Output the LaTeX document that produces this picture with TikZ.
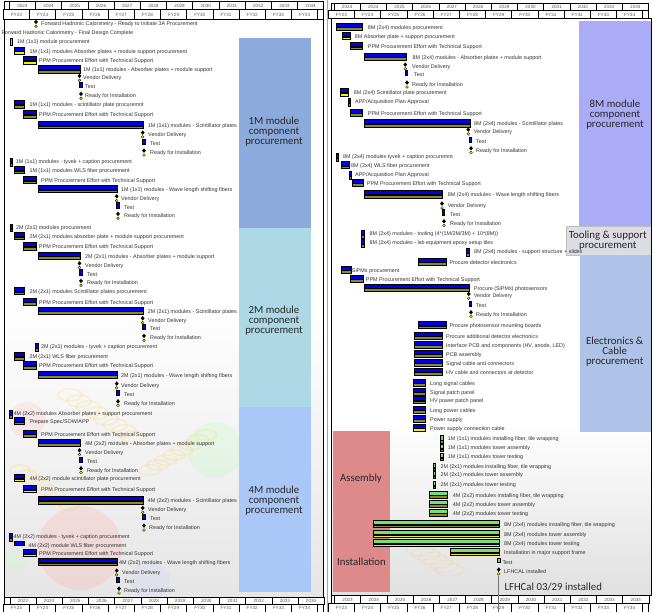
\documentclass[tikz,border=0pt]{standalone}
\usepackage{fontspec}
\setmainfont{Liberation Sans}
\newfontfamily\calfont{Carlito}
\definecolor{gbl}{HTML}{0000E8}
\definecolor{olv}{HTML}{8C8A24}
\definecolor{yel}{HTML}{F2F200}
\definecolor{grn}{HTML}{72E072}
\definecolor{bA}{HTML}{8CAADC}
\definecolor{bB}{HTML}{ADD9E6}
\definecolor{bC}{HTML}{A9C8F7}
\definecolor{bD}{HTML}{ABABF7}
\definecolor{bT}{HTML}{DCDCE3}
\definecolor{bE}{HTML}{AEC3E7}
\definecolor{bR}{HTML}{DE8A8A}
\newcounter{nc}
\tikzset{
  lbl/.style={anchor=west,inner sep=0pt,font=\fontsize{5.4}{6}\selectfont,text=black!80},
  barline/.style={draw=black,line width=.3pt},
  hc/.style={draw=black,line width=.5pt,fill=white},
  htx/.style={inner sep=0pt,font=\fontsize{4.6}{5}\selectfont,text=black!65},
  blk/.style={align=center,inner sep=0pt,text=black!85,font={\calfont\fontsize{10.8}{10}\selectfont}},
}
\newcommand{\GLab}[3]{\stepcounter{nc}\node[lbl] (n\arabic{nc}) at (#1,#2) {#3};}
% x1 x2 ty tx label lowcolor
\newcommand{\GTask}[6]{%
  \filldraw[barline,fill=gbl] (#1,#3-5) rectangle (#2,#3-0.7);
  \filldraw[barline,fill=#6] (#1,#3-0.2) rectangle (#2,#3+2.6);
  \GLab{#4}{#3}{#5}}
\newcommand{\GBlue}[5]{%
  \filldraw[barline,fill=gbl] (#1,#3-5) rectangle (#2,#3-0.7);
  \GLab{#4}{#3}{#5}}
\newcommand{\GGreen}[6]{%
  \filldraw[barline,fill=grn] (#1,#3-5) rectangle (#2,#3-0.7);
  \filldraw[barline,fill=#6] (#1,#3-0.2) rectangle (#2,#3+2.6);
  \GLab{#4}{#3}{#5}}
% x ty tx label
\newcommand{\GMile}[4]{%
  \fill[black] (#1,#2-4.6) -- (#1+1.9,#2-2.4) -- (#1,#2-0.2) -- (#1-1.9,#2-2.4) -- cycle;
  \filldraw[fill=yel,draw=black,line width=.3pt] (#1,#2+1.9) circle[radius=1.4pt];
  \GLab{#3}{#2}{#4}}
% x ty tx
\newcommand{\GTest}[3]{%
  \filldraw[barline,fill=gbl] (#1-1.2,#2-4.7) rectangle (#1+1.3,#2+0.6);
  \GLab{#3}{#2}{Test}}
% x ty colour tx label
\newcommand{\GMark}[5]{%
  \filldraw[barline,fill=#3] (#1-1.2,#2-3.8) rectangle (#1+1.2,#2+0.8);
  \filldraw[barline,fill=olv] (#1-1.2,#2+1.2) rectangle (#1+1.2,#2+3.8);
  \GLab{#4}{#2}{#5}}
% yearx0 fyx0 ytop ymid ybot xright xleft
\newcommand{\GHdr}[7]{%
  \filldraw[hc] (#7,#3) rectangle (#6,#4);
  \filldraw[hc] (#2,#4) rectangle (#6,#5);
  \foreach \i in {0,...,11}{
    \pgfmathtruncatemacro\yr{2023+\i}
    \pgfmathtruncatemacro\fy{23+\i}
    \draw[hc] (#1+26.2*\i,#3) rectangle (#1+26.2*\i+26.2,#4);
    \stepcounter{nc}\node[htx] (n\arabic{nc}) at (#1+26.2*\i+13.1,{(#3+#4)/2}) {\yr};
    \draw[hc] (#2+26.2*\i,#4) rectangle (#2+26.2*\i+26.2,#5);
    \stepcounter{nc}\node[htx] (n\arabic{nc}) at (#2+26.2*\i+13.1,{(#4+#5)/2}) {FY\fy};
  }}
\begin{document}
\begin{tikzpicture}[x=1pt,y=-1pt]
\useasboundingbox (0,0) rectangle (655,612);
\fill[white] (0,0) rectangle (655,612);
% ---------- faint backgrounds ----------
\shade[top color=white,bottom color=black!10] (4.5,300) rectangle (323.7,597);
\fill[red!30,opacity=.3] (80,548) circle[radius=42pt];
\fill[red!25,opacity=.25] (27,420) circle[radius=18pt];
\fill[green!30,opacity=.2] (215,450) circle[radius=28pt];
\fill[blue!20,opacity=.2] (150,580) circle[radius=20pt];
\fill[green!25,opacity=.2] (15,560) circle[radius=12pt];
\foreach \k in {0,...,7}{
  \draw[yellow!60!orange,opacity=.12,line width=2pt] (70+9*\k,395+6*\k) ellipse[x radius=12pt,y radius=6pt];
  \draw[yellow!60!orange,opacity=.12,line width=2pt] (150+8*\k,470-5*\k) ellipse[x radius=11pt,y radius=5pt];
  \draw[yellow!60!orange,opacity=.12,line width=2pt] (20+7*\k,470+5*\k) ellipse[x radius=10pt,y radius=5pt];
}
\shade[top color=white,bottom color=black!12] (331,420) rectangle (651,595.7);
\foreach \k in {0,...,5}{
  \draw[orange!50,opacity=.15,line width=1.5pt] (420+6*\k,550+4*\k) ellipse[x radius=14pt,y radius=6pt];
}
% ---------- category blocks ----------
\fill[bA] (239,37.7) rectangle (311,228);
\fill[bB] (239,228) rectangle (311,407);
\fill[bC] (239,407) rectangle (311,592);
\fill[bD] (579,20.7) rectangle (651,226);
\filldraw[fill=bT,draw=black!25,line width=.4pt] (565.7,226) rectangle (651,255);
\fill[bE] (580,255) rectangle (651,432);
\fill[bR] (332.7,431) rectangle (390,591.7);
\node[blk] (bk1) at (274,132) {1M module\\component\\procurement};
\node[blk] (bk2) at (274,320.7) {2M module\\component\\procurement};
\node[blk] (bk4) at (274,501) {4M module\\component\\procurement};
\node[blk] (bk8) at (615,115) {8M module\\component\\procurement};
\node[blk] (bkt) at (607.8,240.8) {Tooling \& support\\procurement};
\node[blk] (bke) at (614.7,352) {Electronics \&\\Cable\\procurement};
\node[blk] (bka) at (361,479) {Assembly};
\node[blk] (bki) at (361.5,562) {Installation};
\node[blk,anchor=west] (bkl) at (504.3,586.7) {LFHCal 03/29 installed};
% ---------- left panel tasks ----------
\GMile{36}{24.3}{41}{Forward Hadronic Calorimetry - Ready to Initiate 3A Procurement}
\GLab{1.5}{33.3}{Forward Hadronic Calorimetry - Final Design Complete}
\filldraw[barline,fill=grn] (10,38.3) rectangle (12.4,45);
\GLab{17}{42.3}{1M (1x1) module procurement}
\GTask{14.3}{24.3}{51.7}{29.3}{1M (1x1) modules Absorber plates + module support procurement}{yel}
\GTask{23.3}{36}{61.3}{39}{PPM Procurement Effort with Technical Support}{yel}
\GTask{37.7}{80}{70.3}{83}{1M (1x1) modules - Absorber plates + module support}{olv}
\GMile{79.5}{78.3}{83}{Vendor Delivery}
\GTest{80.5}{87}{85}
\GMile{81}{96.3}{85}{Ready for Installation}
\GTask{14.3}{24.3}{105.3}{29.3}{1M (1x1) modules - scintillator plate procuremnt}{olv}
\GTask{23.3}{36}{115.3}{39}{PPM Procurement Effort with Technical Support}{olv}
\GTask{37.7}{142.7}{126}{147.7}{1M (1x1) modules - Scintillator plates}{olv}
\GMile{142.7}{135}{148}{Vendor Delivery}
\GTest{143.5}{143.7}{150}
\GMile{144}{153}{150}{Ready for Installation}
\GMark{11}{162}{gbl}{15.7}{1M (1x1) modules - tyvek + caption procurement}
\GTask{14.3}{24.3}{171}{29.3}{1M (1x1) modules WLS fiber procurement}{olv}
\GTask{23.3}{36}{181}{41}{PPM Procurement Effort with Technical Support}{olv}
\GTask{37.7}{116.7}{190}{121}{1M (1x1) modules - Wave length shifting fibers}{olv}
\GMile{116.7}{198.7}{121}{Vendor Delivery}
\GTest{117.5}{207.3}{124}
\GMile{118}{216.3}{124}{Ready for Installation}
\GMark{11}{227.7}{gbl}{16}{2M (2x1) modules procurement}
\GTask{14.3}{24.3}{237}{29.3}{2M (2x1) modules absorber plate + module support procurement}{olv}
\GTask{23.3}{36}{247.3}{39}{PPM Procurement Effort with Technical Support}{olv}
\GTask{37.7}{80}{256.7}{85}{2M (2x1) modules - Absorber plates + module support}{olv}
\GMile{79.5}{265.7}{85}{Vendor Delivery}
\GTest{80.5}{274.3}{87}
\GMile{81}{283.3}{87}{Ready for Installation}
\GTask{14.3}{24.3}{292}{29.3}{2M (2x1) modules Scintillator plates procurement}{olv}
\GTask{23.3}{36}{302.7}{39}{PPM Procurement Effort with Technical Support}{olv}
\GTask{37.7}{142.7}{311.7}{147.7}{2M (2x1) modules - Scintillator plates}{olv}
\GMile{142.7}{320.7}{148}{Vendor Delivery}
\GTest{143.5}{329}{150}
\GMile{144}{338.3}{150}{Ready for Installation}
\GMark{36.5}{347.3}{gbl}{41}{2M (2x1) modules - tyvek + caption procurement}
\GTask{14.3}{24.3}{357.3}{29.3}{2M (2x1) WLS fiber procurement}{olv}
\GTask{23.3}{36}{366.3}{39}{PPM Procurement Effort with Technical Support}{olv}
\GTask{37.7}{116.7}{375.7}{121}{2M (2x1) modules - Wave length shifting fibers}{olv}
\GMile{116.7}{386}{121}{Vendor Delivery}
\GTest{117.5}{395}{124}
\GMile{118}{403.7}{124}{Ready for Installation}
\GMark{10.7}{414}{gbl}{13.5}{4M (2x2) modules Absorber plates + support procurement}
\GTask{14.3}{24.3}{422}{29.3}{Prepare Spec/SOW/APP}{olv}
\GTask{23.3}{36}{434.7}{41}{PPM Procurement Effort with Technical Support}{olv}
\GTask{37.7}{80}{443.7}{85}{4M (2x2) modules - Absorber plates + module support}{olv}
\GMile{79.5}{452.7}{85}{Vendor Delivery}
\GTest{80.5}{461.7}{87}
\GMile{81}{470.7}{87}{Ready for Installation}
\GTask{14.3}{24.3}{479}{29.3}{4M (2x2) module scintillator plate procurement}{yel}
\GTask{23.3}{36}{490}{41}{PPM Procurement Effort with Technical Support}{yel}
\GTask{37.7}{142.7}{501.3}{147.7}{4M (2x2) modules - Scintillator plates}{olv}
\GMile{142.7}{510.3}{148}{Vendor Delivery}
\GTest{143.5}{519}{150}
\GMile{144}{528}{149}{Ready for Installation}
\GMark{10.7}{537.3}{gbl}{13.5}{4M (2x2) modules - tyvek + caption procurement}
\GBlue{14.3}{24.3}{546}{28.3}{4M (2x2) module WLS fiber procurement}
\GTask{23.3}{36}{554}{39}{PPM Procurement Effort with Technical Support}{yel}
\GTask{37.7}{116.7}{563}{119}{4M (2x2) modules - Wave length shifting fibers}{olv}
\GMile{116.7}{573}{122}{Vendor Delivery}
\GTest{117.5}{582}{124}
\GMile{119}{591}{124}{Ready for Installation}
% ---------- right panel tasks ----------
\GTask{336}{362.3}{27.7}{367.7}{8M (2x4) modules procurement}{olv}
\GTask{341.7}{350}{37}{354.7}{8M Absorber plate + support procurement}{yel}
\GTask{350}{362.3}{47}{367.7}{PPM Procurement Effort with Technical Support}{olv}
\GTask{364}{406}{57.7}{412.3}{8M (2x4) modules - Absorber plates + module support}{olv}
\GMile{405.3}{67}{412}{Vendor Delivery}
\GTest{406}{75}{414}
\GMile{407}{85}{412}{Ready for Installation}
\GTask{339.7}{348.3}{93.3}{353.7}{8M (2x4) Scintillator plate procurement}{yel}
\GMark{349.3}{102}{gbl}{355}{APP/Acquisition Plan Approval}
\GTask{350}{362.3}{113.7}{367.7}{PPM Procurement Effort with Technical Support}{olv}
\GTask{364}{469.7}{124.3}{474}{8M (2x4) modules - Scintillator plates}{olv}
\GMile{468.3}{132}{473.7}{Vendor Delivery}
\GTest{470}{141.7}{476}
\GMile{471}{150.7}{476}{Ready for Installation}
\GMark{337}{157.3}{gbl}{343}{8M (2x4) modules tyvek + caption procuremnt}
\GTask{340.7}{349}{166}{351}{8M (2x4) WLS fiber procurement}{olv}
\GMark{350}{175}{gbl}{355}{APP/Acquisition Plan Approval}
\GTask{351.7}{363.3}{183.7}{366.7}{PPM Procurement Effort with Technical Support}{olv}
\GTask{364}{442.3}{195.3}{447.7}{8M (2x4) modules - Wave length shifting fibers}{olv}
\GMile{442}{206}{447.7}{Vendor Delivery}
\GTest{443}{214.3}{450}
\GMile{444}{223.7}{450}{Ready for Installation}
\GMark{362.7}{234}{gbl}{369.3}{8M (2x4) modules - tooling (4*(1M/2M/3M) + 10*(8M))}
\GMark{362.7}{243.3}{gbl}{369.3}{8M (2x4) modules - lab equipment epoxy setup tiles}
\GMark{467.7}{252.3}{gbl}{474}{8M (2x4) modules - support structure + slides}
\GTask{417.7}{446}{262.7}{449.3}{Procure detector electronics}{olv}
\GTask{340.7}{350.7}{270.7}{351.7}{SiPMs procurement}{olv}
\GTask{350}{362.7}{279.7}{365.7}{PPM Procurement Effort with Technical Support}{olv}
\GTask{364}{469}{288.7}{473.7}{Procure (SiPMs) photosensors}{olv}
\GMile{468.7}{296.3}{473.7}{Vendor Delivery}
\GTest{470}{305.7}{476}
\GMile{471}{314.7}{476}{Ready for Installation}
\GTask{417.7}{446}{326}{449.3}{Procure photosensor mounting boards}{olv}
\GTask{414}{441.7}{336.7}{446}{Procure additional detector electronics}{olv}
\GTask{414}{441.7}{345.7}{446}{Interface PCB and components (HV, anode, LED)}{olv}
\GTask{414}{441.7}{354.7}{446}{PCB assembly}{olv}
\GTask{414}{441.7}{363.7}{446}{Signal cable and connectors}{olv}
\GTask{414}{441.7}{372.7}{446}{HV cable and connectors at detector}{olv}
\GTask{413.3}{425}{383.7}{430}{Long signal cables}{olv}
\GTask{413.3}{425}{392.7}{430}{Signal patch panel}{olv}
\GTask{413.3}{425}{401}{430}{HV power patch panel}{olv}
\GTask{413.3}{425}{410.7}{430}{Long power cables}{olv}
\GTask{413.3}{425}{419.7}{430}{Power supply}{olv}
\GTask{413.3}{425}{428.7}{430}{Power supply connection cable}{yel}
\GMark{441.7}{439.3}{grn}{447.7}{1M (1x1) modules installing fiber, tile wrapping}
\GMark{441.7}{447.7}{grn}{447.7}{1M (1x1) modules tower assembly}
\GMark{441.7}{456.7}{grn}{447.7}{1M (1x1) modules tower testing}
\GMark{434.3}{466.7}{grn}{440.3}{2M (2x1) modules installing fiber, tile wrapping}
\GMark{434.3}{474.7}{grn}{440.3}{2M (2x1) modules tower assembly}
\GMark{434.3}{484.7}{grn}{440.3}{2M (2x1) modules tower testing}
\GGreen{429.3}{447.3}{495.7}{452.7}{4M (2x2) modules installing fiber, tile wrapping}{olv}
\GGreen{429.3}{447.3}{504.7}{452.7}{4M (2x2) modules tower assembly}{olv}
\GGreen{429.3}{447.3}{513.7}{452.7}{4M (2x2) modules tower testing}{olv}
\GGreen{372.7}{498.7}{525}{504}{8M (2x4) modules installing fiber, tile wrapping}{olv}
\GGreen{372.7}{498.7}{535}{504}{8M (2x4) modules tower assembly}{yel}
\GGreen{372.7}{498.7}{544}{504}{8M (2x4) modules tower testing}{yel}
\GGreen{450.3}{498.7}{553}{504}{Installation in major support frame}{yel}
\filldraw[barline,fill=grn] (497.2,558) rectangle (499.7,562);
\GLab{502.3}{563}{Test}
\GMile{498.7}{572}{504}{LFHCAL installed}
% ---------- frames ----------
\draw[black,line width=.6pt] (4.5,19.3) rectangle (323.7,597);
\draw[black!35,line width=1pt] (327.5,0) -- (327.5,612);
\draw[black,line width=.6pt] (331,18.7) rectangle (651,595.7);
% ---------- headers ----------
\GHdr{9.3}{3.3}{1.7}{9.7}{19.3}{323.7}{4.5}
\GHdr{9.8}{3.3}{597}{604.5}{612}{323.7}{4.5}
\GHdr{334}{328.3}{3.3}{10.5}{18.7}{648.4}{331}
\GHdr{334.5}{328.3}{595.7}{603.6}{612}{648.4}{331}
% ---------- installed line ----------
\coordinate (lfa) at (498.7,575.5);
\coordinate (lfb) at (498.7,612);
\draw[black!55,line width=1.3pt] (lfa) -- (lfb);
\end{tikzpicture}
\end{document}
